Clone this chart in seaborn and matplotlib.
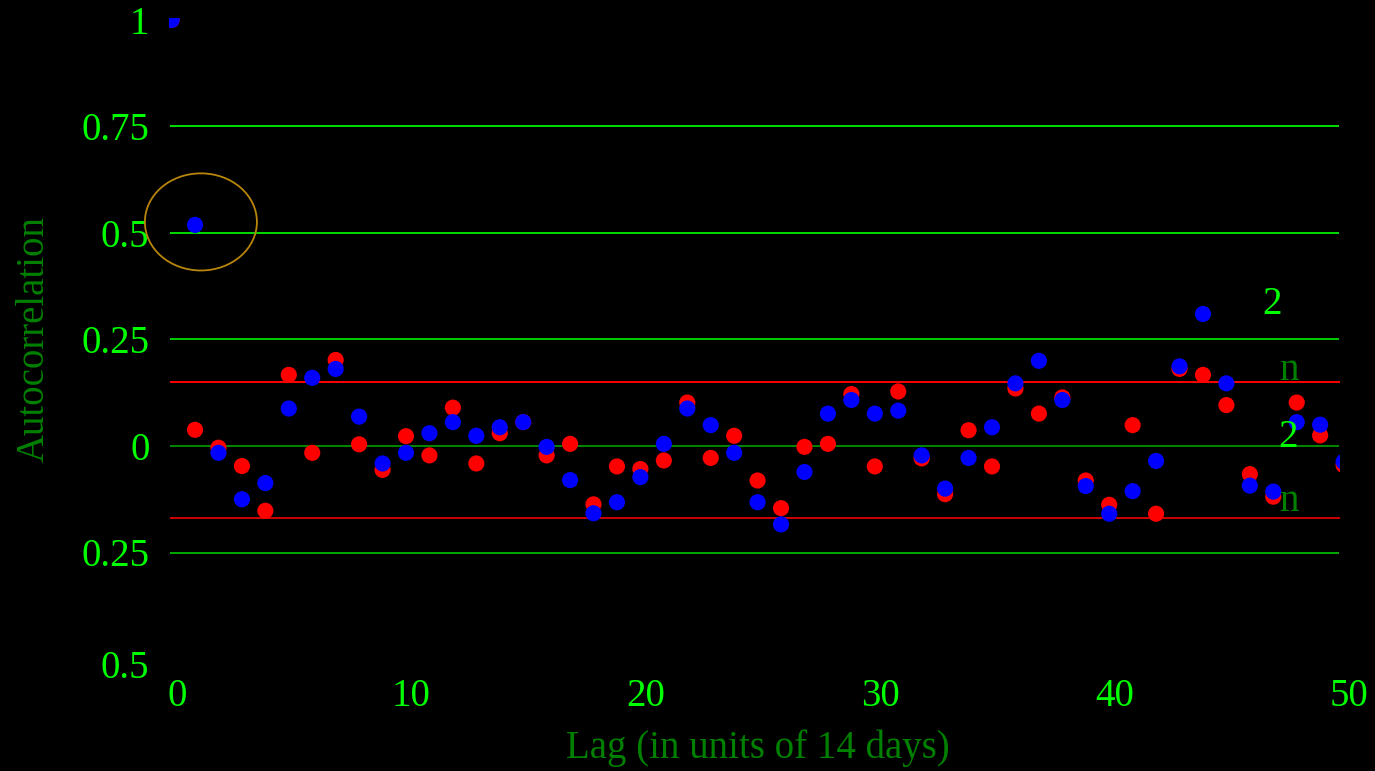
import numpy as np
import pandas as pd
import matplotlib
matplotlib.use("Agg")
import matplotlib.pyplot as plt
import seaborn as sns
from matplotlib.patches import Ellipse, Rectangle
from matplotlib.transforms import ScaledTranslation

# ---- data ----
lags = list(range(51))
acf_red = [1.0, 0.038, -0.004, -0.047, -0.152, 0.167, -0.016, 0.202, 0.004, -0.056,
           0.023, -0.022, 0.090, -0.041, 0.030, 0.056, -0.022, 0.005, -0.137, -0.048,
           -0.054, -0.034, 0.102, -0.028, 0.024, -0.081, -0.146, -0.002, 0.005, 0.122,
           -0.048, 0.128, -0.029, -0.113, 0.037, -0.048, 0.135, 0.076, 0.114, -0.081,
           -0.138, 0.049, -0.159, 0.181, 0.167, 0.096, -0.066, -0.119, 0.102, 0.025, -0.045]
acf_blue = [1.0, 0.519, -0.016, -0.125, -0.087, 0.088, 0.160, 0.181, 0.069, -0.041,
            -0.016, 0.030, 0.056, 0.024, 0.044, 0.056, -0.002, -0.080, -0.158, -0.132,
            -0.073, 0.005, 0.088, 0.049, -0.016, -0.132, -0.184, -0.061, 0.076, 0.108,
            0.076, 0.083, -0.022, -0.100, -0.028, 0.044, 0.147, 0.200, 0.108, -0.094,
            -0.159, -0.106, -0.035, 0.187, 0.310, 0.147, -0.093, -0.107, 0.056, 0.050, -0.037]
upper_bound = 0.150
lower_bound = -0.169
y_ticks = [1, 0.75, 0.5, 0.25, 0, -0.25, -0.5]
y_tick_labels = ["1", "0.75", "0.5", "0.25", "0", "0.25", "0.5"]
x_ticks = [0, 10, 20, 30, 40, 50]
x_tick_labels = ["0", "10", "20", "30", "40", "50"]

df = pd.concat([
    pd.DataFrame({"lag": lags, "acf": acf_red, "series": "red"}),
    pd.DataFrame({"lag": lags, "acf": acf_blue, "series": "blue"}),
], ignore_index=True)

# ---- style ----
sns.set_style("dark", {"axes.facecolor": "black", "figure.facecolor": "black"})
plt.rcParams["font.family"] = ["Liberation Serif", "DejaVu Serif"]
plt.rcParams["font.size"] = 28

fig = plt.figure(figsize=(13.75, 7.71), dpi=100, facecolor="black")
W, H = 1375, 771
x0_px, x1_px = 171.6, 1343.6          # pixel positions of lag 0 and lag 50
y_top_px, y_bot_px = 20, 659
ax = fig.add_axes([x0_px / W, 1 - y_bot_px / H, (x1_px - x0_px) / W, (y_bot_px - y_top_px) / H])
ax.set_facecolor("none")
ax.set_xlim(0, 50)
ax.set_ylim(-0.5, 1)

grid_end = (1339 - x0_px) / (x1_px - x0_px) * 50
grid_start = (170 - x0_px) / (x1_px - x0_px) * 50

# grid lines
for yv, col in [(0.75, "#00dd00"), (0.5, "#00dd00"), (0.25, "#00cc00"),
                (0.0, "#008800"), (-0.25, "#00aa00")]:
    ax.hlines(yv, grid_start, grid_end, color=col, lw=1.4, zorder=1, clip_on=False)
ax.hlines(upper_bound, grid_start, grid_end + 0.05, color="#ff0000", lw=1.4, zorder=1, clip_on=False)
ax.hlines(lower_bound, grid_start, grid_end + 0.05, color="#d00000", lw=1.4, zorder=1, clip_on=False)

sns.scatterplot(data=df, x="lag", y="acf", hue="series",
                palette={"red": "#ff0000", "blue": "#0000ff"},
                s=135, linewidth=0, legend=False, ax=ax, zorder=3)

ax_w = x1_px - x0_px
ax_h = y_bot_px - y_top_px
clip_left = (169 - x0_px) / ax_w
clip_right = (1340 - x0_px) / ax_w
clip_top = 1 + 1.5 / ax_h
clip_rect = Rectangle((clip_left, 0), clip_right - clip_left, clip_top,
                      transform=ax.transAxes, facecolor="none", edgecolor="none")
ax.add_patch(clip_rect)
clip_rect.set_visible(False)
for coll in ax.collections:
    if coll.get_offsets().shape[0] > 10:
        coll.set_clip_path(clip_rect)

ax.add_patch(Ellipse((1.25, 0.526), 4.78, 0.228, fill=False,
                     edgecolor="#b8860b", lw=1.3, zorder=4, clip_on=False))

ax.set_xticks(x_ticks)
ax.set_xticklabels(x_tick_labels)
ax.set_yticks(y_ticks)
ax.set_yticklabels(y_tick_labels)
ax.tick_params(axis="both", colors="#00ff00", length=0, labelsize=28)
ax.tick_params(axis="x", pad=14)
ax.tick_params(axis="y", pad=16)
for lab in ax.get_xticklabels():
    lab.set_transform(lab.get_transform() + ScaledTranslation(0.055, 0, fig.dpi_scale_trans))
for lab, yv in zip(ax.get_yticklabels(), y_ticks):
    if yv == -0.5:
        lab.set_transform(lab.get_transform() + ScaledTranslation(0, -0.05, fig.dpi_scale_trans))
ax.grid(False)
for sp in ax.spines.values():
    sp.set_visible(False)

ax.set_xlabel("Lag (in units of 14 days)", color="#008000", fontsize=28, labelpad=10)
ax.set_ylabel("Autocorrelation", color="#008000", fontsize=28, labelpad=21)

# fragments of the 2/sqrt(n) annotations
ax.text(46.95, 0.331, "2", color="#00ff00", fontsize=28, ha="center", va="center")
ax.text(47.67, 0.178, "n", color="#008000", fontsize=28, ha="center", va="center")
ax.text(47.62, 0.021, "2", color="#00ff00", fontsize=28, ha="center", va="center")
ax.text(47.67, -0.131, "n", color="#008000", fontsize=28, ha="center", va="center")

fig.savefig("out.png", dpi=100, facecolor="black")
